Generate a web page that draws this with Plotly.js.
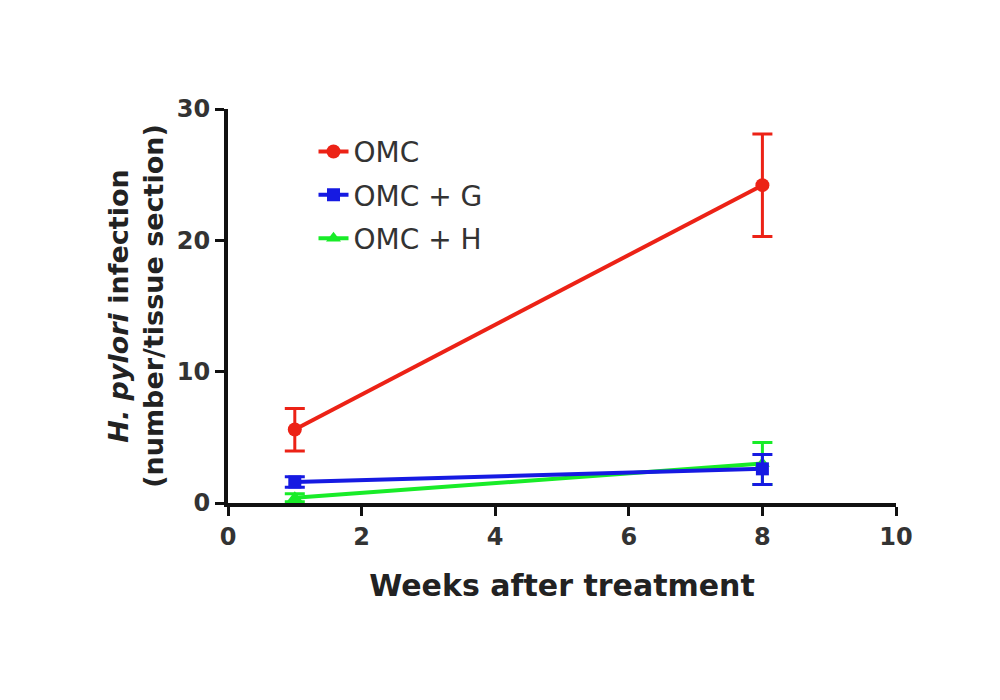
<!DOCTYPE html>
<html>
<head>
<meta charset="utf-8">
<script src="https://cdn.plot.ly/plotly-3.0.1.min.js"></script>
<style>html,body{margin:0;padding:0;background:#fff;}#chart{width:1000px;height:700px;}</style>
</head>
<body>
<div id="chart"></div>
<script>
// Data
const weeks = [1, 8];
const seriesNames = ["OMC", "OMC + G", "OMC + H"];
const omc = [5.6, 24.2];
const omcErrPlus = [1.6, 3.9];
const omcErrMinus = [1.65, 3.9];
const omcG = [1.6, 2.6];
const omcGErrPlus = [0.4, 1.1];
const omcGErrMinus = [0.4, 1.2];
const omcH = [0.4, 3.0];
const omcHErrPlus = [0.3, 1.6];
const omcHErrMinus = [0.3, 1.6];
const xTicks = [0, 2, 4, 6, 8, 10];
const yTicks = [0, 10, 20, 30];

const RED = 'rgb(236,34,22)';
const BLUE = 'rgb(22,26,226)';
const GREEN = 'rgb(24,236,40)';

function trace(name, y, ep, em, color, symbol, size, rank) {
  return {
    x: weeks, y: y, name: name, type: 'scatter', mode: 'lines+markers',
    line: {color: color, width: 4},
    marker: {color: color, symbol: symbol, size: size},
    error_y: {type: 'data', array: ep, arrayminus: em, visible: true, color: color, thickness: 3, width: 10},
    legendrank: rank, legendgroup: name, cliponaxis: false
  };
}

const data = [
  trace(seriesNames[2], omcH, omcHErrPlus, omcHErrMinus, GREEN, 'triangle-up', 13, 3),
  trace(seriesNames[1], omcG, omcGErrPlus, omcGErrMinus, BLUE, 'square', 13, 2),
  trace(seriesNames[0], omc, omcErrPlus, omcErrMinus, RED, 'circle', 14, 1)
];

const FONT = 'DejaVu Sans, Arial, sans-serif';

const layout = {
  width: 1000, height: 700,
  paper_bgcolor: '#fff', plot_bgcolor: '#fff',
  margin: {l: 228, r: 104, t: 109, b: 197},
  font: {family: FONT, color: '#222'},
  showlegend: true,
  legend: {
    x: 0.128, y: 0.955, xanchor: 'left', yanchor: 'top',
    font: {family: FONT, size: 28, color: '#333'},
    bgcolor: 'rgba(0,0,0,0)', tracegroupgap: 4, traceorder: 'grouped'
  },
  xaxis: {
    range: [0, 10], tickvals: xTicks, ticktext: xTicks.map(String),
    showgrid: false, zeroline: false, showline: true, linecolor: '#111', linewidth: 4,
    ticks: 'outside', ticklen: 9, tickwidth: 3, tickcolor: '#111',
    tickfont: {family: FONT, size: 24, color: '#333', weight: 'bold'},
    automargin: false,
    title: {text: '<b>Weeks after treatment</b>', font: {family: FONT, size: 30, color: '#222'}, standoff: 26}
  },
  yaxis: {
    range: [0, 30], tickvals: yTicks, ticktext: yTicks.map(String),
    showgrid: false, zeroline: false, showline: true, linecolor: '#111', linewidth: 4,
    ticks: 'outside', ticklen: 9, tickwidth: 3, tickcolor: '#111',
    tickfont: {family: FONT, size: 24, color: '#333', weight: 'bold'},
    automargin: false,
    title: {text: '<b><i>H. pylori</i> infection<br>(number/tissue section)</b>', font: {family: FONT, size: 27, color: '#222'}, standoff: 6}
  }
};

Plotly.newPlot('chart', data, layout, {displayModeBar: false, staticPlot: true});
</script>
</body>
</html>
